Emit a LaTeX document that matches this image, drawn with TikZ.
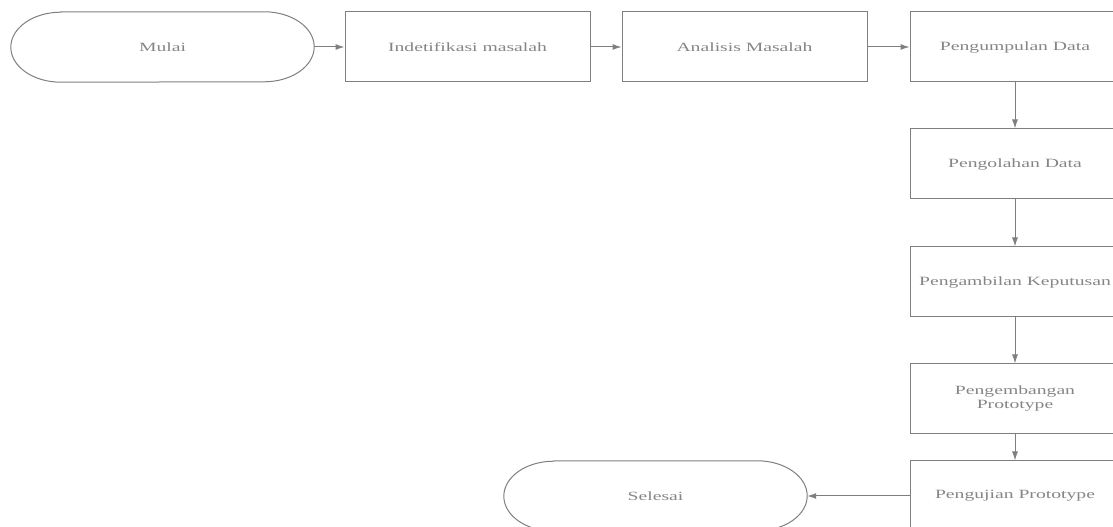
\documentclass[tikz,border=0pt]{standalone}
\usepackage{fontspec}
\setmainfont{Liberation Serif}
\usetikzlibrary{arrows.meta}
\definecolor{linegray}{HTML}{7F7F7F}
\definecolor{textgray}{HTML}{858585}
\newcommand{\wide}[1]{\scalebox{1.56}[1]{#1}}
\tikzset{
  box/.style={draw=linegray, line width=1pt, rectangle, minimum width=245pt, minimum height=70pt, inner sep=0pt, text=textgray},
  rbox/.style={box, minimum width=210pt},
  term/.style={draw=none, rectangle, minimum width=303pt, minimum height=70pt, inner sep=0pt, text=textgray},
  arr/.style={draw=linegray, line width=1pt, -{Latex[length=9pt,width=6pt]}},
  termline/.style={draw=linegray, line width=1pt}
}
\begin{document}
\begin{tikzpicture}[x=1pt,y=1pt,font=\fontsize{12.6}{13.5}\selectfont]
\useasboundingbox (0,0) rectangle (1113,527);
\clip (0,0) rectangle (1113,527);
\node[term] (mulai) at (162.5,480) {\wide{Mulai}};
\node[box] (ident) at (467.5,480) {\wide{Indetifikasi masalah}};
\node[box] (anal) at (744.5,480) {\wide{Analisis Masalah}};
\node[rbox] (kumpul) at (1015,480) {\wide{Pengumpulan Data}};
\node[rbox] (olah) at (1015,363) {\wide{Pengolahan Data}};
\node[rbox] (ambil) at (1015,245) {\wide{Pengambilan Keputusan}};
\node[rbox] (kembang) at (1015,128) {\wide{\begin{tabular}{@{}c@{}}Pengembangan\\[0.5pt]Prototype\end{tabular}}};
\node[rbox] (uji) at (1015,31) {\wide{Pengujian Prototype}};
\node[term] (selesai) at (655.5,31) {\wide{Selesai}};
% terminator outlines
\foreach \t in {mulai,selesai}{
  \draw[termline] ([xshift=50pt]\t.north west) -- ([xshift=-50pt]\t.north east)
    arc[start angle=90,end angle=-90,x radius=50pt,y radius=35pt]
    -- ([xshift=50pt]\t.south west)
    arc[start angle=270,end angle=90,x radius=50pt,y radius=35pt] -- cycle;
}
\draw[arr] (mulai.east) -- (ident.west);
\draw[arr] (ident.east) -- (anal.west);
\draw[arr] (anal.east) -- (kumpul.west);
\draw[arr] (kumpul.south) -- (olah.north);
\draw[arr] (olah.south) -- (ambil.north);
\draw[arr] (ambil.south) -- (kembang.north);
\draw[arr] (kembang.south) -- (uji.north);
\draw[arr] (uji.west) -- (selesai.east);
\end{tikzpicture}
\end{document}
